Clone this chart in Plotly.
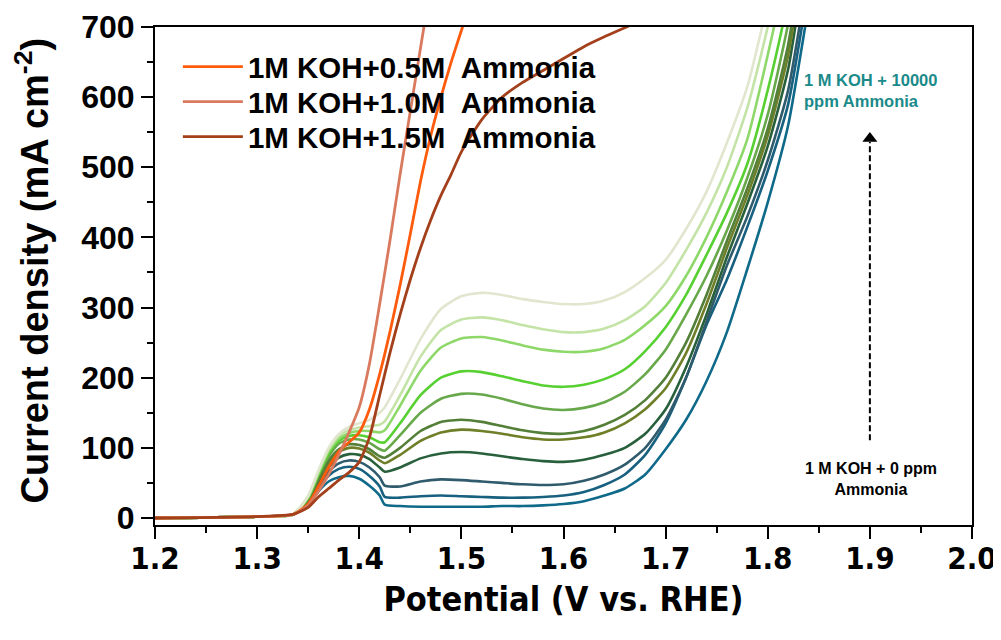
import plotly.graph_objects as go

# common potential grid (V vs RHE) for the ammonia-concentration series
V = [1.20, 1.30, 1.335, 1.35, 1.36, 1.37, 1.38, 1.39, 1.40, 1.41, 1.42, 1.425,
     1.44, 1.46, 1.48, 1.50, 1.52, 1.54, 1.56, 1.58, 1.60, 1.62, 1.64, 1.66,
     1.68, 1.70, 1.72, 1.74, 1.76, 1.78, 1.80, 1.82, 1.84, 1.86]

ppm0 = [0, 2, 5, 20, 38, 52, 58, 60, 56, 46, 32, 19,
        17, 16, 16, 16, 16, 17, 17, 18, 20, 24, 32, 42,
        62, 98, 140, 195, 265, 355, 450, 560, 730, 900]
ppm_b = [0, 2, 5, 22, 42, 60, 70, 73, 70, 60, 45, 30,
         29, 31, 32, 31, 30, 29, 29, 30, 32, 37, 47, 62,
         90, 135, 200, 275, 340, 415, 495, 590, 760, 950]
ppm_c = [0, 2, 5, 24, 46, 66, 78, 82, 80, 72, 58, 46,
         45, 52, 55, 54, 52, 50, 48, 47, 48, 53, 62, 76,
         100, 140, 200, 280, 360, 430, 510, 610, 780, 950]
ppm_d = [0, 2, 5, 25, 50, 72, 86, 91, 90, 84, 72, 66,
         72, 85, 92, 94, 92, 88, 84, 81, 80, 83, 90, 100,
         120, 155, 215, 290, 372, 448, 530, 640, 820, 950]
ppm_e = [0, 2, 5, 26, 54, 78, 94, 100, 99, 93, 82, 78,
         90, 110, 122, 126, 124, 120, 115, 112, 112, 115, 122, 135,
         155, 185, 235, 305, 385, 460, 545, 660, 840, 980]
ppm_f = [0, 2, 5, 27, 56, 82, 98, 105, 104, 98, 88, 86,
         100, 124, 137, 140, 137, 131, 125, 121, 120, 124, 133, 147,
         168, 200, 250, 318, 395, 470, 555, 675, 860, 1000]
ppm_g = [0, 2, 5, 28, 60, 88, 106, 112, 112, 107, 98, 96,
         118, 150, 170, 177, 176, 170, 162, 156, 154, 157, 165, 180,
         205, 240, 290, 345, 410, 485, 575, 705, 880, 1000]
ppm_h = [0, 2, 5, 29, 62, 92, 110, 117, 118, 115, 108, 108,
         135, 175, 200, 209, 208, 202, 195, 189, 187, 190, 198, 212,
         238, 272, 318, 375, 435, 505, 610, 740, 900, 1000]
ppm_i = [0, 2, 5, 30, 64, 95, 113, 121, 124, 124, 122, 125,
         160, 210, 243, 256, 258, 253, 246, 240, 237, 237, 242, 254,
         275, 302, 345, 400, 465, 540, 660, 790, 920, 1000]
ppm_j = [0, 2, 5, 31, 66, 98, 117, 125, 129, 131, 133, 138,
         175, 230, 268, 283, 286, 282, 275, 269, 265, 265, 270, 282,
         302, 335, 382, 435, 500, 585, 700, 830, 950, 1000]
ppm10000 = [0, 2, 5, 32, 68, 100, 120, 130, 135, 140, 150, 158,
            198, 255, 298, 316, 321, 318, 312, 308, 305, 305, 310, 322,
            342, 368, 412, 465, 535, 615, 735, 870, 1000, 1000]

series_j = [ppm0, ppm_b, ppm_c, ppm_d, ppm_e, ppm_f, ppm_g, ppm_h, ppm_i, ppm_j, ppm10000]
series_colors = ["#0f6a8a", "#17607f", "#2f5b6c", "#28603c", "#6e7f28", "#537f38",
                 "#67a84a", "#57d031", "#8ed86a", "#c4e3a6", "#e1e6cf"]

# high-ammonia series
V_05 = [1.20, 1.30, 1.335, 1.35, 1.36, 1.37, 1.38, 1.39, 1.40, 1.41, 1.42, 1.43,
        1.44, 1.45, 1.46, 1.47, 1.48, 1.49, 1.50, 1.51]
J_05 = [0, 2, 5, 20, 45, 72, 95, 108, 122, 155, 205, 265,
        332, 405, 480, 545, 600, 650, 695, 740]
V_10 = [1.20, 1.30, 1.335, 1.35, 1.36, 1.37, 1.38, 1.39, 1.40, 1.41, 1.42, 1.43,
        1.44, 1.45, 1.46, 1.47]
J_10 = [0, 2, 5, 18, 38, 62, 90, 122, 158, 220, 305, 395,
        490, 580, 670, 760]
V_15 = [1.20, 1.30, 1.335, 1.35, 1.36, 1.37, 1.38, 1.39, 1.40, 1.41, 1.42, 1.43,
        1.44, 1.45, 1.46, 1.47, 1.48, 1.49, 1.50, 1.52, 1.54, 1.56, 1.58, 1.60,
        1.62, 1.64, 1.66, 1.68]
J_15 = [0, 2, 5, 15, 30, 42, 54, 65, 80, 115, 175, 235,
        290, 340, 385, 425, 460, 490, 522, 568, 600, 621, 638, 655,
        672, 686, 699, 712]

legend_names = ["1M KOH+0.5M&nbsp; Ammonia", "1M KOH+1.0M&nbsp; Ammonia", "1M KOH+1.5M&nbsp; Ammonia"]
legend_colors = ["#ff5b0d", "#d97a5e", "#a3401b"]
legend_ids = ["legend", "legend2", "legend3"]
legend_rows_y = [0.9197, 0.8494, 0.7791]

# trend arrow (1 M KOH + 0 ppm -> 10000 ppm)
arrow_x = [1.9, 1.9]
arrow_y = [111, 536]

x_ticks = [1.2, 1.3, 1.4, 1.5, 1.6, 1.7, 1.8, 1.9, 2.0]
y_ticks = [0, 100, 200, 300, 400, 500, 600, 700]

fig = go.Figure()
for j, c in zip(series_j, series_colors):
    fig.add_trace(go.Scatter(x=V, y=j, mode="lines", showlegend=False,
                             line=dict(color=c, width=2.6, shape="spline", smoothing=0.6)))

for xs, ys, name, c, lg in zip([V_05, V_10, V_15], [J_05, J_10, J_15],
                               legend_names, legend_colors, legend_ids):
    fig.add_trace(go.Scatter(x=xs, y=ys, mode="lines", name=name, legend=lg, showlegend=True,
                             line=dict(color=c, width=2.8, shape="spline", smoothing=0.6)))

fig.add_trace(go.Scatter(x=arrow_x, y=arrow_y, mode="lines", showlegend=False, hoverinfo="skip",
                         line=dict(color="black", width=2, dash="6px,3px")))
fig.add_trace(go.Scatter(x=arrow_x[1:], y=[arrow_y[1] + 5], mode="markers", showlegend=False,
                         hoverinfo="skip",
                         marker=dict(symbol="triangle-up", size=13, color="black")))

bold = "Liberation Sans, Arial, sans-serif"
narrow = "Liberation Sans Narrow, Arial Narrow, DejaVu Sans Condensed, sans-serif"

legend_style = dict(x=0.028, xanchor="left", yanchor="middle",
                    bgcolor="rgba(0,0,0,0)", itemwidth=60,
                    font=dict(family=bold, size=29.5, weight="bold", color="black"))

# the page body adds an 8 px offset, so the figure is sized to fit the 1001x640 window
fig.update_layout(
    width=993, height=632,
    margin=dict(l=147, r=29, t=19, b=115),
    paper_bgcolor="white", plot_bgcolor="white",
    font=dict(family=bold, color="black"),
    xaxis=dict(range=[1.2, 2.0], tickvals=x_ticks, ticktext=[f"{t:.1f}" for t in x_ticks],
               automargin=False,
               showline=True, linecolor="black", linewidth=2, mirror=True,
               ticks="outside", ticklen=12, tickwidth=2, tickcolor="black",
               minor=dict(dtick=0.05, ticks="outside", ticklen=6, tickwidth=2, tickcolor="black"),
               showgrid=False, zeroline=False, ticklabelstandoff=-7,
               tickfont=dict(family=narrow, size=31, weight="bold"),
               title=dict(text="Potential (V vs. RHE)", standoff=12,
                          font=dict(family=narrow, size=34, weight="bold"))),
    yaxis=dict(range=[-10, 700], tickvals=y_ticks,
               automargin=False,
               showline=True, linecolor="black", linewidth=2, mirror=True,
               ticks="outside", ticklen=12, tickwidth=2, tickcolor="black",
               minor=dict(dtick=50, ticks="outside", ticklen=6, tickwidth=2, tickcolor="black"),
               showgrid=False, zeroline=False,
               tickfont=dict(family=bold, size=32, weight="bold"),
               title=dict(text="&nbsp;Current density (mA cm<sup>-2</sup>)",
                          standoff=24,
                          font=dict(family=bold, size=38, weight="bold"))),
)
for lg, ly in zip(legend_ids, legend_rows_y):
    fig.update_layout({lg: dict(legend_style, y=ly)})

fig.add_annotation(x=1.834, y=610, xref="x", yref="y", xanchor="left", yanchor="middle",
                   align="left", showarrow=False,
                   text="1 M KOH + 10000<br>ppm Ammonia",
                   font=dict(family=bold, size=16.5, weight="bold", color="#1b8a8a"))
fig.add_annotation(x=1.901, y=56, xref="x", yref="y", xanchor="center", yanchor="middle",
                   align="center", showarrow=False,
                   text="1 M KOH + 0 ppm<br>Ammonia",
                   font=dict(family=bold, size=16, weight="bold", color="black"))

fig.write_html("out.html")
